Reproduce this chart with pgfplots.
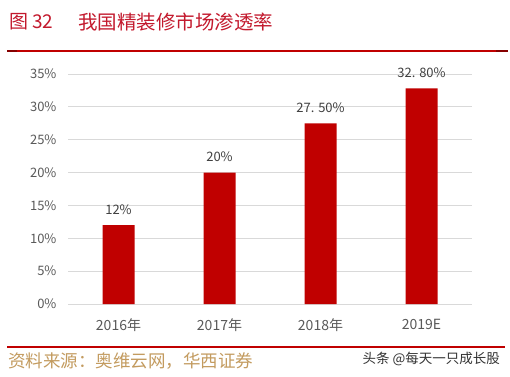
\documentclass[border=0pt]{standalone}
\usepackage{pgfplots}
\pgfplotsset{compat=1.18}
\usepackage{fontspec}
\setmainfont{Noto Sans CJK SC}
\newfontfamily\cjk{Noto Sans CJK SC}
\definecolor{barred}{RGB}{192,0,0}
\definecolor{titlered}{RGB}{195,25,45}
\definecolor{gold}{RGB}{195,155,95}
\definecolor{ticktxt}{RGB}{89,89,89}
\definecolor{lbltxt}{RGB}{64,64,64}
\definecolor{gridc}{RGB}{217,217,217}
\begin{document}
\begin{tikzpicture}
\path[use as bounding box, fill=white] (0,0) rectangle (510pt,376pt);
% title
\node[anchor=west, text=titlered, font=\fontsize{19pt}{21pt}\selectfont, inner sep=0pt] at (9pt,354pt) {图 32};
\node[anchor=west, text=titlered, font=\fontsize{19.5pt}{21pt}\selectfont, inner sep=0pt] at (78pt,354pt) {我国精装修市场渗透率};
% top rule
\draw[barred, line width=2pt] (7pt,325pt) -- (508pt,325pt);
\draw[black!30!barred, line width=2.5pt] (7pt,325pt) -- (17pt,325pt);
\draw[black!30!barred, line width=2.5pt] (496pt,325pt) -- (508pt,325pt);
\begin{axis}[
  at={(68pt,72pt)}, anchor=south west,
  scale only axis, width=404pt, height=230pt,
  xmin=-0.5, xmax=3.5, ymin=0, ymax=35,
  axis line style={draw=none},
  major tick style={draw=none},
  ymajorgrids, grid style={gridc, line width=0.8pt},
  ytick={0,5,...,35},
  yticklabel={\pgfmathprintnumber{\tick}\%},
  /pgf/number format/assume math mode=true,
  yticklabel style={text=ticktxt, font=\fontsize{13pt}{14pt}\selectfont, xshift=-8pt},
  xtick={0,1,2,3},
  xticklabels={2016年,2017年,2018年,2019E},
  xticklabel style={text=ticktxt, font=\fontsize{14pt}{15pt}\selectfont, yshift=-7pt},
  ybar, bar width=32pt,
  point meta=explicit symbolic,
  nodes near coords,
  nodes near coords style={text=lbltxt, font=\fontsize{13pt}{14pt}\selectfont, yshift=7pt},
]
\addplot[fill=barred, draw=none] coordinates {
  (0,12) [12\%]
  (1,20) [20\%]
  (2,27.5) [27. 50\%]
  (3,32.8) [32. 80\%]
};
\end{axis}
% bottom rule
\draw[barred, line width=2pt] (7pt,29pt) -- (505pt,29pt);
\node[anchor=west, text=gold, font=\fontsize{17.5pt}{19pt}\selectfont, inner sep=0pt] at (8pt,15pt) {资料来源：奥维云网，华西证券};
\node[anchor=east, text=black!80, font=\fontsize{13.5pt}{15pt}\selectfont, inner sep=0pt] at (500pt,17pt) {头条 @每天一只成长股};
\end{tikzpicture}
\end{document}
